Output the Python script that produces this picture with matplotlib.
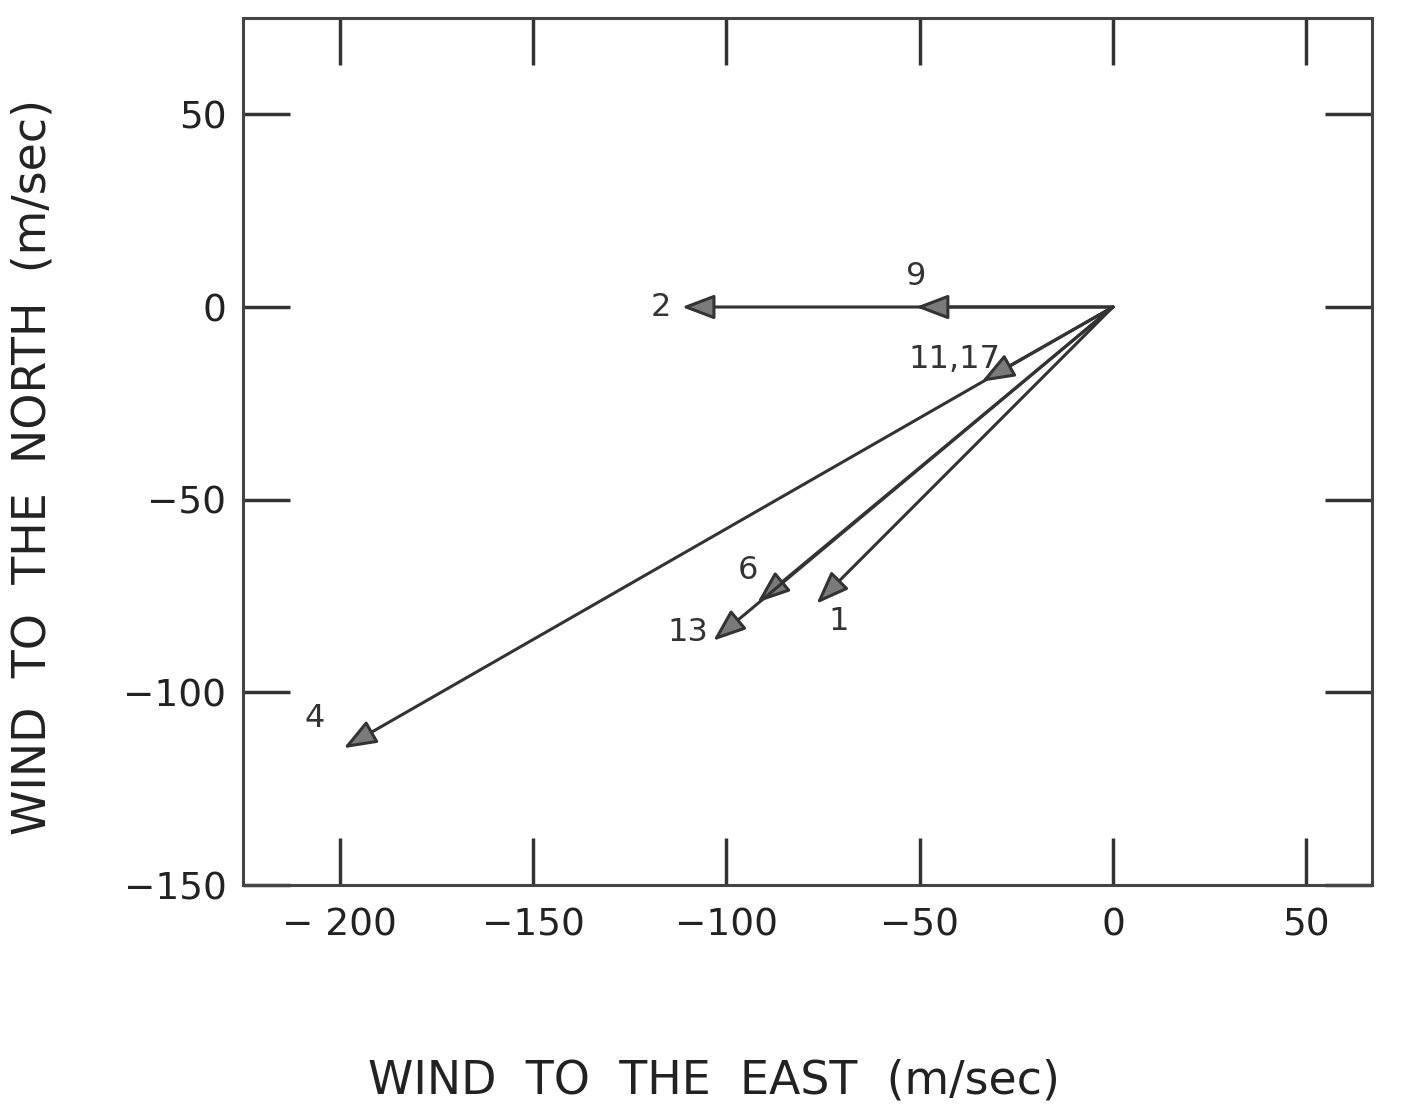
import numpy as np
import matplotlib
matplotlib.use('Agg')
import matplotlib.pyplot as plt

# wind vectors (m/sec), east and north components
labels = ['1', '2', '4', '6', '9', '11,17', '13']
u_east = [-76.7, -111.5, -199, -92, -51, -34, -103.4]
v_north = [-77, 0, -114.5, -76.7, 0, -19.4, -86.6]

# where the number of each vector sits
label_x = [-71, -117, -206.5, -94.5, -51, -41, -110]
label_y = [-81.5, 0, -106.7, -68.5, 8, -13.5, -84.5]

x_ticks = [-200, -150, -100, -50, 0, 50]
x_ticklabels = ['\u2212 200', '\u2212150', '\u2212100', '\u221250', '0', '50']
y_ticks = [-150, -100, -50, 0, 50]
y_ticklabels = ['\u2212150', '\u2212100', '\u221250', '0', '50']

ink = '#333333'
plt.rcParams['font.family'] = ['DejaVu Sans']

fig = plt.figure(figsize=(14.14, 11.11), dpi=100)
ax = fig.add_axes([0.1719, 0.2034, 0.7984, 0.7804])
ax.set_xlim(-225, 67)
ax.set_ylim(-150, 75)

for u, v in zip(u_east, v_north):
    ax.annotate('', xy=(u, v), xytext=(0, 0),
                arrowprops=dict(arrowstyle='-|>,head_length=1.0,head_width=0.38',
                                mutation_scale=20, shrinkA=0, shrinkB=0,
                                lw=2.2, edgecolor=ink, facecolor='#7a7a7a'))

for lab, x, y in zip(labels, label_x, label_y):
    ax.text(x, y, lab, fontsize=23, color=ink, ha='center', va='center')

ax.set_xticks(x_ticks)
ax.set_xticklabels(x_ticklabels)
ax.set_yticks(y_ticks)
ax.set_yticklabels(y_ticklabels)
ax.tick_params(direction='in', top=True, right=True, length=34, width=2.5,
               colors=ink, labelsize=27, labelcolor='#222222')
ax.tick_params(axis='x', pad=16)
ax.tick_params(axis='y', pad=12)
for s in ax.spines.values():
    s.set_linewidth(2.2)
    s.set_color('#444444')

fig.text(0.505, 0.027, 'WIND  TO  THE  EAST  (m/sec)', fontsize=33,
         ha='center', va='center', color='#222222')
fig.text(0.023, 0.58, 'WIND  TO  THE  NORTH  (m/sec)', fontsize=33,
         ha='center', va='center', rotation=90, color='#222222')

fig.savefig('out.png', dpi=100, facecolor='white')
